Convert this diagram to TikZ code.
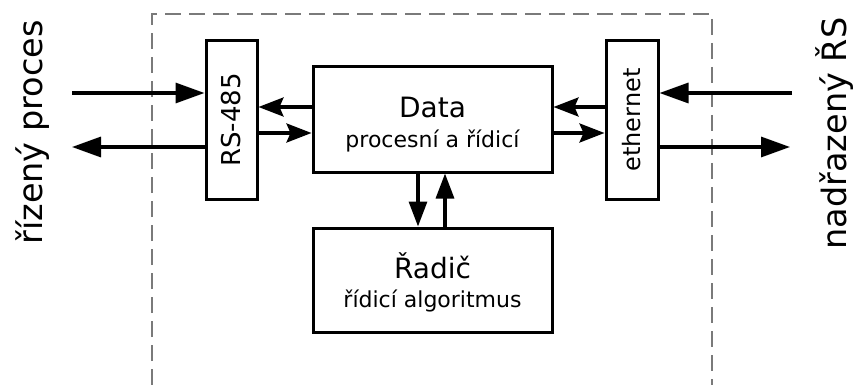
\documentclass[tikz,border=0pt]{standalone}
\usepackage{fontspec}
\usepackage{graphicx}
\setmainfont{DejaVu Sans}
\usetikzlibrary{arrows.meta}

\begin{document}
\begin{tikzpicture}[x=1pt,y=-1pt,
  box/.style={draw=black, line width=3pt, inner sep=0pt},
  frame/.style={draw=black!52, line width=1.4pt, dash pattern=on 16pt off 8pt},
  bigarrow/.style={line width=3.2pt, -{Triangle[length=29pt,width=20pt]}},
  smallarrow/.style={line width=3.2pt, -{Stealth[length=25pt,width=19pt,inset=4pt]}},
  vertarrow/.style={line width=3.2pt, -{Triangle[length=25pt,width=18pt]}},
  sidelabel/.style={rotate=90, anchor=base, font=\fontsize{33.5}{40}\selectfont},
  title/.style={anchor=base, font=\fontsize{28}{34}\selectfont},
  subtitle/.style={anchor=base, font=\fontsize{22}{26}\selectfont}]

\useasboundingbox (0,0) rectangle (854,385);

% system boundary
\draw[frame] (152,385) -- (152,14) -- (712,14) -- (712,385);

% blocks
\node[box, minimum width=51pt, minimum height=158pt] (rs) at (231.5,120)
  {\rotatebox{90}{\fontsize{26}{30}\selectfont RS-485}};
\node[box, minimum width=239pt, minimum height=105pt] (data) at (432.5,119.5) {};
\node[box, minimum width=52pt, minimum height=158pt] (eth) at (632,120)
  {\rotatebox{90}{\fontsize{24}{28}\selectfont ethernet}};
\node[box, minimum width=239pt, minimum height=104pt] (ctl) at (432.5,280) {};

% block texts
\node[title] (datat) at (432.5,118) {Data};
\node[subtitle] (datas) at (432.5,147) {procesní a řídicí};
\node[title] (ctlt) at (432.5,278) {Řadič};
\node[subtitle] (ctls) at (432.5,307) {řídicí algoritmus};

% side labels
\node[sidelabel] (lproc) at (42,132.5) {řízený proces};
\node[sidelabel] (lsup) at (846,133.5) {nadřazený ŘS};

% signal rows and columns
\coordinate (r1) at (0,93);
\coordinate (r2) at (0,107);
\coordinate (r3) at (0,133);
\coordinate (r4) at (0,147);
\coordinate (c1) at (418,0);
\coordinate (c2) at (445,0);
\coordinate (pin) at (72,93);
\coordinate (pout) at (72,147);
\coordinate (qin) at (792,93);
\coordinate (qout) at (790,147);

% process side
\draw[bigarrow] (pin) -- (rs.west |- r1);
\draw[bigarrow] (rs.west |- r4) -- (pout);
\draw[smallarrow] (data.west |- r2) -- (rs.east |- r2);
\draw[smallarrow] (rs.east |- r3) -- (data.west |- r3);

% supervisory side
\draw[bigarrow] (qin) -- (eth.east |- r1);
\draw[bigarrow] (eth.east |- r4) -- (qout);
\draw[smallarrow] (eth.west |- r2) -- (data.east |- r2);
\draw[smallarrow] (data.east |- r3) -- (eth.west |- r3);

% data <-> controller
\draw[vertarrow] (data.south -| c1) -- (ctl.north -| c1);
\draw[vertarrow] (ctl.north -| c2) -- (data.south -| c2);

\end{tikzpicture}
\end{document}
